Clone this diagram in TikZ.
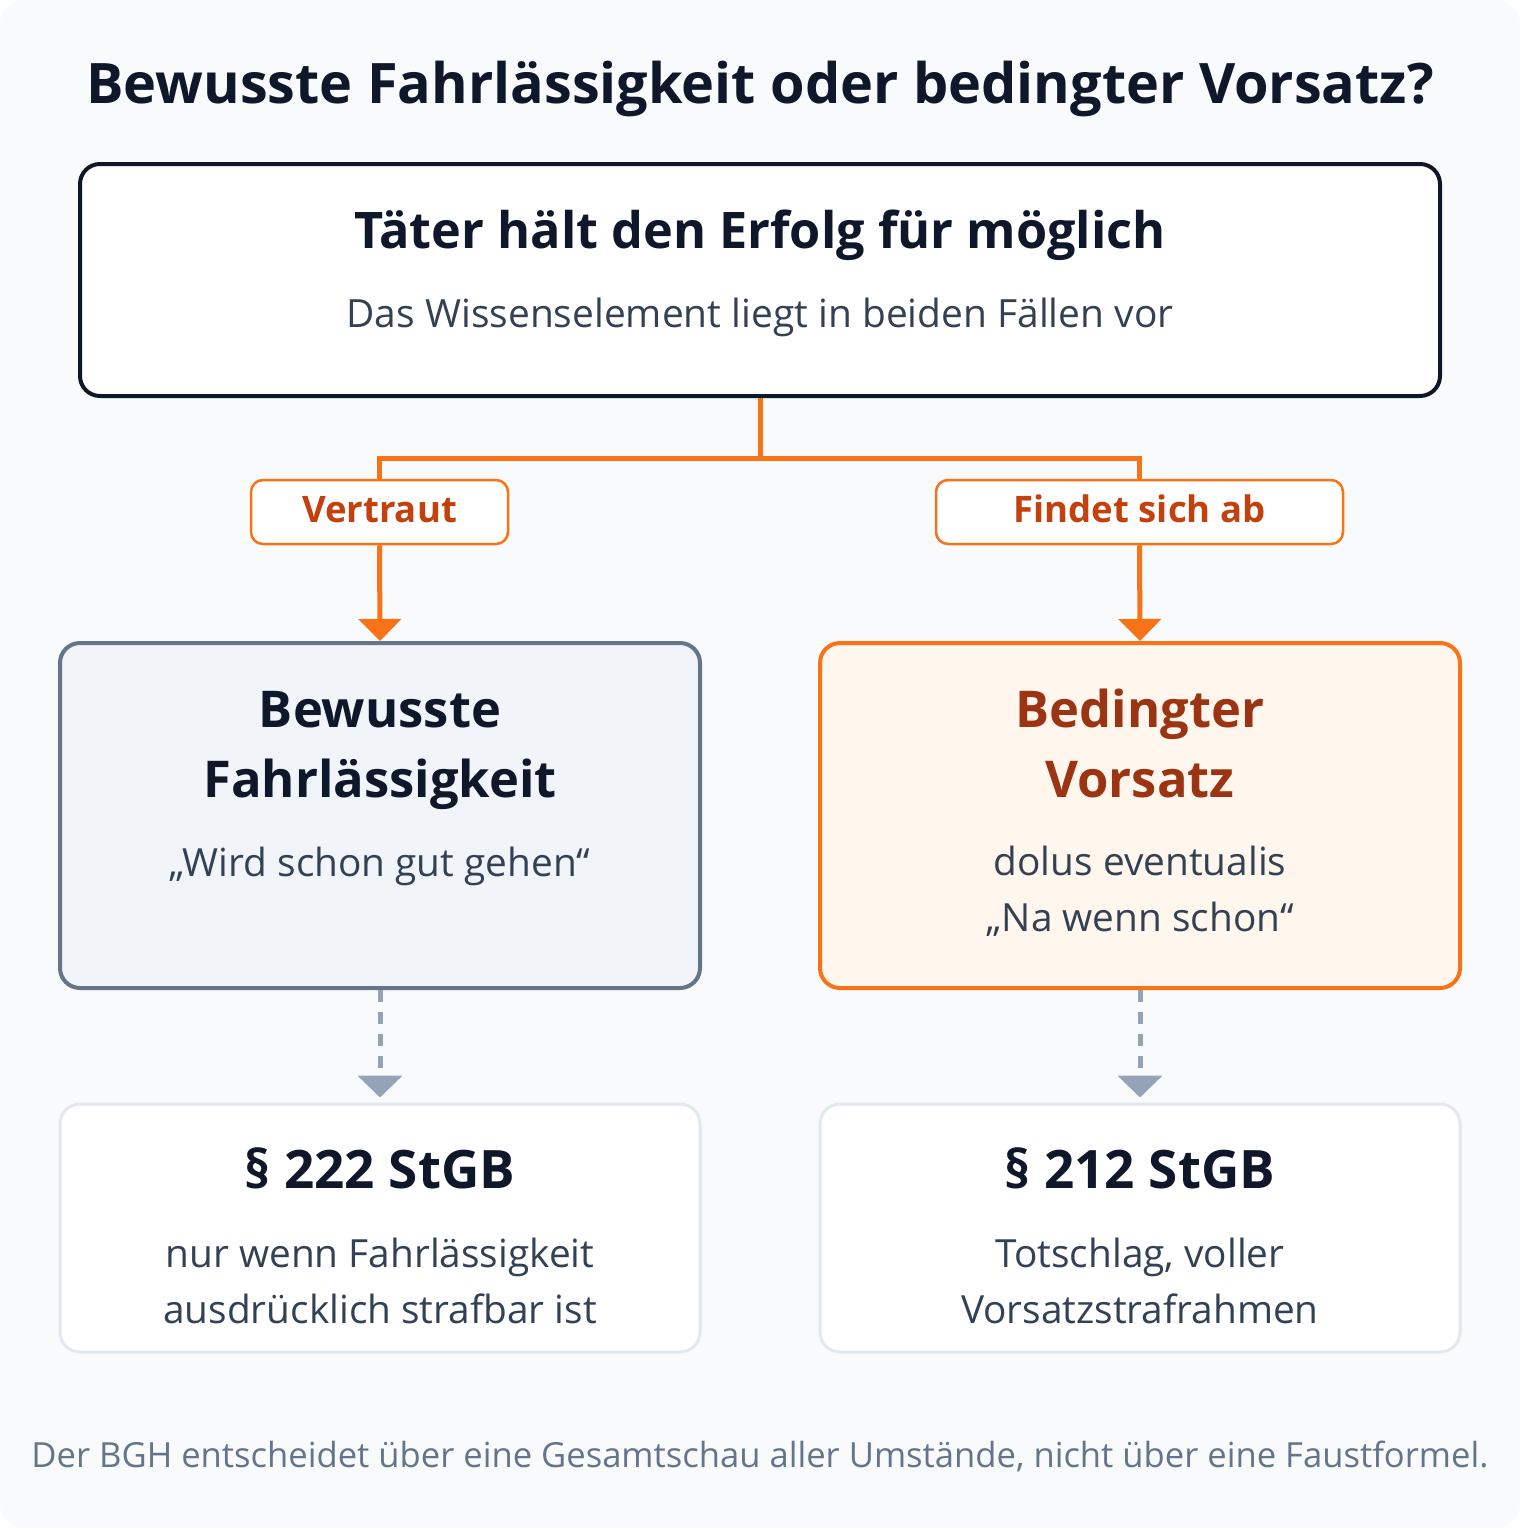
\documentclass[tikz,border=0pt]{standalone}
\usepackage{fontspec}
\setmainfont{Open Sans}
\usetikzlibrary{arrows.meta}
\definecolor{ink}{HTML}{0F172A}
\definecolor{slateA}{HTML}{334155}
\definecolor{slateB}{HTML}{64748B}
\definecolor{slateC}{HTML}{94A3B8}
\definecolor{slateD}{HTML}{E2E8F0}
\definecolor{slateE}{HTML}{F1F5F9}
\definecolor{bgc}{HTML}{F8FAFC}
\definecolor{orng}{HTML}{F97316}
\definecolor{orngD}{HTML}{C2410C}
\definecolor{orngE}{HTML}{9A3412}
\definecolor{orngL}{HTML}{FFF7ED}
\tikzset{
  box/.style={rounded corners=20pt, inner sep=0pt},
  topbox/.style={box, draw=ink, line width=4pt, fill=white, minimum width=1360pt, minimum height=232pt},
  leftbox/.style={box, draw=slateB, line width=4pt, fill=slateE, minimum width=640pt, minimum height=345pt},
  rightbox/.style={box, draw=orng, line width=4pt, fill=orngL, minimum width=640pt, minimum height=345pt},
  lawbox/.style={box, draw=slateD, line width=3pt, fill=white, minimum width=640pt, minimum height=248pt},
  tag/.style={rounded corners=12pt, draw=orng, line width=2.5pt, fill=white, minimum height=64pt, inner sep=0pt, text height=20pt, text depth=0pt, text=orngD, font=\fontsize{36.5}{40}\selectfont\bfseries},
  txt/.style={anchor=base, inner sep=0pt},
  headtxt/.style={txt, font=\fontsize{50.7}{68}\selectfont\bfseries, text=ink},
  lawtxt/.style={txt, font=\fontsize{53}{60}\selectfont\bfseries, text=ink},
  subtxt/.style={txt, font=\fontsize{38.8}{56}\selectfont, text=slateA},
  flow/.style={draw=orng, line width=5pt, line join=miter},
  flowarrow/.style={flow, -{Triangle[width=42pt,length=22pt]}},
  conseq/.style={draw=slateC, line width=5pt, dash pattern=on 12pt off 10pt, -{Triangle[width=44pt,length=22pt]}, shorten >=5pt},
}
\begin{document}
\begin{tikzpicture}[x=1pt,y=-1pt]
\useasboundingbox (0,0) rectangle (1520,1528);
\fill[white] (0,0) rectangle (1520,1528);
\fill[bgc, rounded corners=24pt] (0,0) rectangle (1520,1528);

\node[txt, font=\fontsize{55.8}{60}\selectfont\bfseries, text=ink] (title) at (760,103) {Bewusste Fahrlässigkeit oder bedingter Vorsatz?};

\node[topbox] (top) at (760,280) {};
\node[headtxt, font=\fontsize{50.4}{60}\selectfont\bfseries] (toph) at (760,248) {Täter hält den Erfolg für möglich};
\node[subtxt, font=\fontsize{38.9}{56}\selectfont] (tops) at (760,327) {Das Wissenselement liegt in beiden Fällen vor};

\node[tag, minimum width=257pt] (vt) at (379.5,512) {Vertraut};
\node[tag, minimum width=407pt] (fs) at (1139.5,512) {Findet sich ab};

\node[leftbox] (lft) at (380,815.5) {};
\node[rightbox] (rgt) at (1140,815.5) {};

\node[headtxt] (lh1) at (380,727) {Bewusste};
\node[headtxt] (lh2) at (380,797) {Fahrlässigkeit};
\node[subtxt] (ls) at (380,876) {„Wird schon gut gehen“};
\node[headtxt, text=orngE] (rh1) at (1140,727) {Bedingter};
\node[headtxt, text=orngE] (rh2) at (1140,797) {Vorsatz};
\node[subtxt] (rs1) at (1140,875) {dolus eventualis};
\node[subtxt] (rs2) at (1140,931) {„Na wenn schon“};

\node[lawbox] (lb) at (380,1228) {};
\node[lawbox] (rb) at (1140,1228) {};
\node[lawtxt] (lbh) at (380,1188) {§ 222 StGB};
\node[subtxt] (lbs1) at (380,1267) {nur wenn Fahrlässigkeit};
\node[subtxt] (lbs2) at (380,1323) {ausdrücklich strafbar ist};
\node[lawtxt] (rbh) at (1140,1188) {§ 212 StGB};
\node[subtxt] (rbs1) at (1140,1267) {Totschlag, voller};
\node[subtxt] (rbs2) at (1140,1323) {Vorsatzstrafrahmen};

\draw[flow] (top.south) -- ++(0,60) -| (vt.north);
\draw[flow] (top.south) -- ++(0,60) -| (fs.north);
\draw[flowarrow] (vt.south) -- (lft.north);
\draw[flowarrow] (fs.south) -- (rgt.north);

\draw[conseq] (lft.south) -- (lb.north);
\draw[conseq] (rgt.south) -- (rb.north);

\node[txt, font=\fontsize{34.6}{40}\selectfont, text=slateB] (foot) at (760,1467) {Der BGH entscheidet über eine Gesamtschau aller Umstände, nicht über eine Faustformel.};
\end{tikzpicture}
\end{document}
